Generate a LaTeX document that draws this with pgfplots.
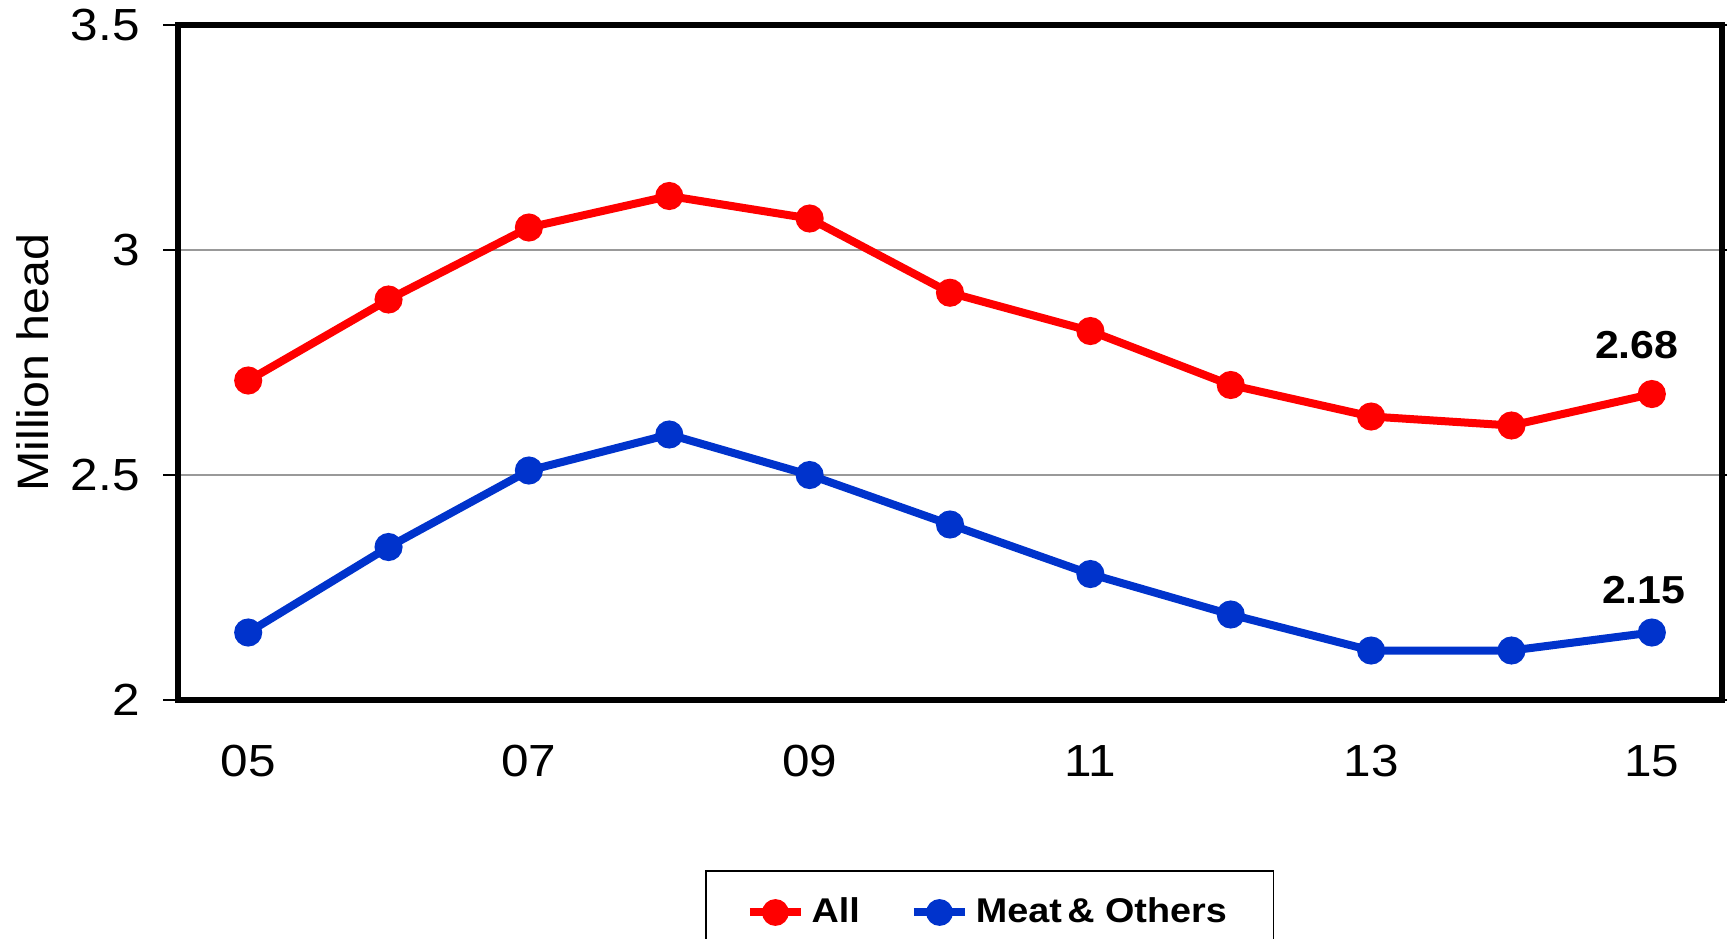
\documentclass[border=0pt]{standalone}
\usepackage{pgfplots}
\pgfplotsset{compat=1.18}
\usepackage{fontspec}
\setmainfont[FakeStretch=1.1]{Liberation Sans}
\definecolor{cred}{RGB}{255,0,0}
\definecolor{cblue}{RGB}{0,51,204}
\begin{document}
\begin{tikzpicture}
\begin{axis}[
  scale only axis, width=463.2pt, height=202.5pt,
  at={(0,0)}, anchor=south west,
  xmin=4.5, xmax=15.5, ymin=2, ymax=3.5,
  xtick={5,7,9,11,13,15}, xticklabels={05,07,09,11,13,15},
  ytick={2,2.5,3,3.5}, yticklabels={2,2.5,3,3.5},
  ymajorgrids, grid style={black!40, line width=0.6pt},
  axis line style={line width=1.6pt},
  tick align=outside,
  xtick style={draw=none},
  ytick style={line width=0.5pt, black}, major tick length=4.5pt,
  ticklabel style={font=\fontsize{13.5}{15}\selectfont},
  xticklabel style={yshift=-5.5pt},
  yticklabel style={xshift=-3.5pt},
  /pgf/number format/assume math mode=true,
  ylabel={Million head},
  ylabel style={font=\fontsize{13.2}{15}\selectfont, at={(axis description cs:-0.0939,0.5)}, anchor=center},
  legend style={at={(axis description cs:0.3413,-0.2519)}, anchor=north west, draw=black, line width=0.5pt,
    font=\bfseries\fontsize{10.3}{12}\selectfont, legend columns=2,
    /tikz/every even column/.append style={column sep=13pt},
    inner xsep=12pt, inner ysep=6pt},
  legend cell align=left,
  legend image code/.code={\draw[mark repeat=2,mark phase=2,mark size=2.8pt] plot coordinates {(0cm,0cm) (0.27cm,0cm) (0.54cm,0cm)};},
]
\addplot[color=cred, line width=2.4pt, mark=*, mark size=3pt] coordinates {
(5,2.71) (6,2.89) (7,3.05) (8,3.12) (9,3.07) (10,2.905) (11,2.82) (12,2.70) (13,2.63) (14,2.61) (15,2.68)};
\addlegendentry{All}
\addplot[color=cblue, line width=2.4pt, mark=*, mark size=3pt] coordinates {
(5,2.15) (6,2.34) (7,2.51) (8,2.59) (9,2.50) (10,2.39) (11,2.28) (12,2.19) (13,2.11) (14,2.11) (15,2.15)};
\addlegendentry{Meat\hspace{0.16em}\& Others}
\node[font=\bfseries\fontsize{11.7}{13}\selectfont, anchor=south, xshift=-4.5pt, yshift=7pt] at (axis cs:15,2.68) {2.68};
\node[font=\bfseries\fontsize{11.7}{13}\selectfont, anchor=south, xshift=-2.4pt, yshift=5pt] at (axis cs:15,2.15) {2.15};
\end{axis}
\pgfresetboundingbox
\useasboundingbox (-53.4pt,-71.4pt) rectangle (464.7pt,210pt);
\end{tikzpicture}
\end{document}
